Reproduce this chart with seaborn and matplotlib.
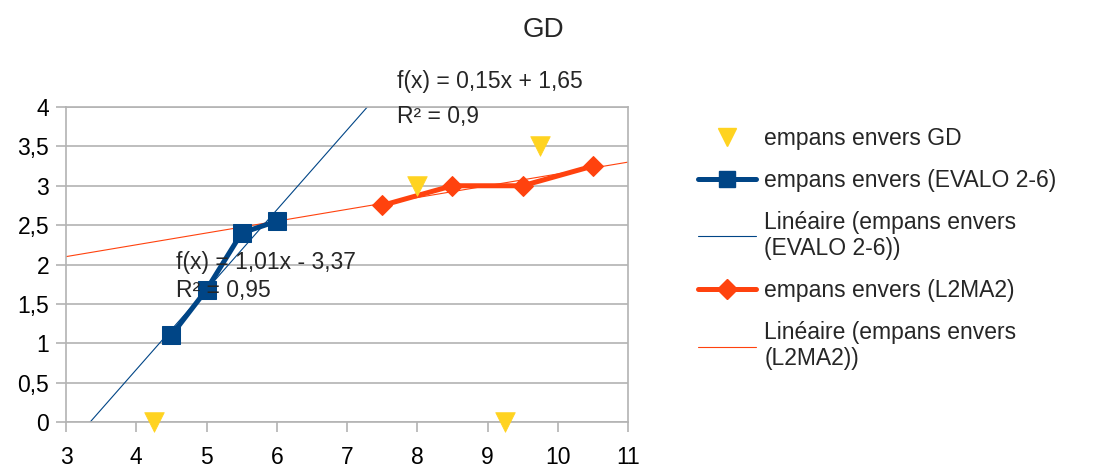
import numpy as np
import pandas as pd
import seaborn as sns
import matplotlib.pyplot as plt
from matplotlib.lines import Line2D

# ---------------- data ----------------
gd_x = [4.25, 8, 9.25, 9.75]
gd_y = [0, 3, 0, 3.5]

evalo_x = [4.5, 5, 5.5, 6]
evalo_y = [1.1, 1.68, 2.4, 2.55]

l2ma2_x = [7.5, 8.5, 9.5, 10.5]
l2ma2_y = [2.75, 3, 3, 3.25]

x_ticks = [3, 4, 5, 6, 7, 8, 9, 10, 11]
y_ticks = [0, 0.5, 1, 1.5, 2, 2.5, 3, 3.5, 4]
y_tick_labels = ["0", "0,5", "1", "1,5", "2", "2,5", "3", "3,5", "4"]

BLUE = "#004586"
ORANGE = "#ff420e"
YELLOW = "#ffd320"
GRID = "#b3b3b3"
FS = 16.5

sns.set_style("whitegrid")
plt.rcParams['font.family'] = ['Liberation Sans', 'DejaVu Sans']

fig = plt.figure(figsize=(10.95, 4.67), dpi=100)
ax = fig.add_axes([66 / 1095, 1 - 422 / 467, (628 - 66) / 1095, (422 - 107) / 467])

df_evalo = pd.DataFrame({"x": evalo_x, "y": evalo_y})
df_l2 = pd.DataFrame({"x": l2ma2_x, "y": l2ma2_y})
df_gd = pd.DataFrame({"x": gd_x, "y": gd_y})

# linear trend lines
b_slope, b_int = np.polyfit(evalo_x, evalo_y, 1)
o_slope, o_int = np.polyfit(l2ma2_x, l2ma2_y, 1)
ax.axline((0, b_int), slope=b_slope, color=BLUE, lw=0.8, zorder=2)
ax.axline((0, o_int), slope=o_slope, color=ORANGE, lw=0.8, zorder=2)

sns.lineplot(data=df_evalo, x="x", y="y", ax=ax, color=BLUE, lw=3.6, marker="s",
             markersize=13, markeredgecolor=BLUE, sort=False, zorder=3)
sns.lineplot(data=df_l2, x="x", y="y", ax=ax, color=ORANGE, lw=3.6, marker="D",
             markersize=10, markeredgecolor=ORANGE, sort=False, zorder=3)
sns.scatterplot(data=df_gd, x="x", y="y", ax=ax, color=YELLOW, marker="v", s=200,
                edgecolor=YELLOW, linewidth=0.5, zorder=4, clip_on=False)

# equations
ax.text(7.71, 4.32, "f(x) = 0,15x + 1,65", fontsize=FS, va="center", clip_on=False, zorder=5)
ax.text(7.71, 3.88, "R² = 0,9", fontsize=FS, va="center", clip_on=False, zorder=5)
ax.text(4.566, 2.03, "f(x) = 1,01x - 3,37", fontsize=FS, va="center", zorder=5)
ax.text(4.566, 1.67, "R² = 0,95", fontsize=FS, va="center", zorder=5)

ax.set_xlim(3, 11)
ax.set_ylim(0, 4)
ax.set_xticks(x_ticks)
ax.set_xticklabels([str(t) for t in x_ticks])
ax.set_yticks(y_ticks)
ax.set_yticklabels(y_tick_labels)
ax.set_xlabel("")
ax.set_ylabel("")
ax.grid(axis="x", visible=False)
ax.grid(axis="y", color=GRID, lw=1.2)
for sp in ax.spines.values():
    sp.set_color(GRID)
    sp.set_linewidth(1.2)
ax.tick_params(axis="both", which="both", direction="out", color=GRID, width=1.2,
               labelsize=FS, labelcolor="black")
ax.tick_params(axis="x", length=7.2, bottom=True, pad=10)
ax.tick_params(axis="y", length=7.2, left=True, pad=5)

fig.text(543 / 1095, 1 - 30 / 467, "GD", fontsize=20, ha="center", va="center")

handles = [
    Line2D([], [], color=YELLOW, marker="v", markersize=13, lw=0),
    Line2D([], [], color=BLUE, marker="s", markersize=12, lw=3.6),
    Line2D([], [], color=BLUE, lw=0.8),
    Line2D([], [], color=ORANGE, marker="D", markersize=10, lw=3.6),
    Line2D([], [], color=ORANGE, lw=0.8),
]
labels = [
    "empans envers GD",
    "empans envers (EVALO 2-6)",
    "Linéaire (empans envers\n(EVALO 2-6))",
    "empans envers (L2MA2)",
    "Linéaire (empans envers\n(L2MA2))",
]
fig.legend(handles, labels, loc="upper left", bbox_to_anchor=(698 / 1095, 1 - 127 / 467),
           frameon=False, fontsize=FS, handlelength=2.55, handletextpad=0.35,
           labelspacing=0.82, borderaxespad=0, borderpad=0)

fig.savefig("out.png", dpi=100)
